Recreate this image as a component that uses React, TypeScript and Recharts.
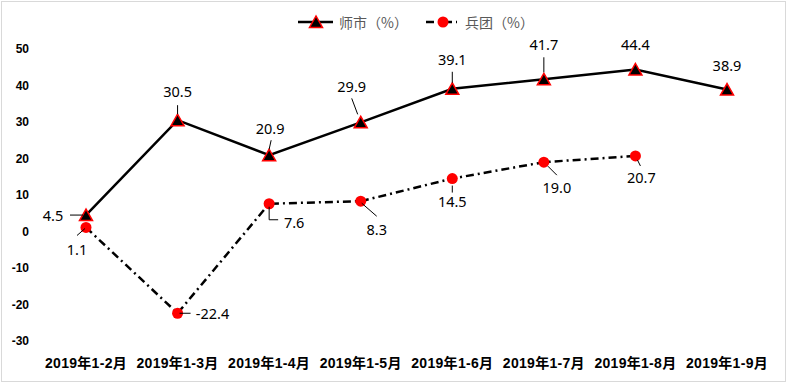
import React from 'react';
import { LineChart, Line, XAxis, YAxis, Legend, LabelList } from 'recharts';

const categories = ['2019年1-2月', '2019年1-3月', '2019年1-4月', '2019年1-5月', '2019年1-6月', '2019年1-7月', '2019年1-8月', '2019年1-9月'];
const shishiValues = [4.5, 30.5, 20.9, 29.9, 39.1, 41.7, 44.4, 38.9];
const bingtuanValues: (number | null)[] = [1.1, -22.4, 7.6, 8.3, 14.5, 19.0, 20.7, null];
const yTicks = [-30, -20, -10, 0, 10, 20, 30, 40, 50];
const seriesNames = ['师市（%）', '兵团（%）'];

const data = categories.map((c, i) => ({ name: c, shishi: shishiValues[i], bingtuan: bingtuanValues[i] }));

// label placement relative to each point (styling only)
type LL = { dx: number; dy: number; leader?: number[][] };
const shishiLabelLayout: LL[] = [
  { dx: -33, dy: 0, leader: [[-16, 0], [-3, 0]] },
  { dx: 0, dy: -29, leader: [[0, -15], [0, -6]] },
  { dx: 1, dy: -27, leader: [[2, -15], [0, -6]] },
  { dx: -9, dy: -36, leader: [[-9, -24], [-3, -8]] },
  { dx: 0, dy: -30, leader: [[0, -17], [0, -6]] },
  { dx: 0, dy: -35, leader: [[0, -22], [0, -7]] },
  { dx: 0, dy: -25 },
  { dx: 0, dy: -25 },
];
const bingtuanLabelLayout: LL[] = [
  { dx: -9, dy: 22, leader: [[-9, 8], [-1, 1]] },
  { dx: 35, dy: 0, leader: [[2, 0], [13, 0]] },
  { dx: 25, dy: 18, leader: [[0, 3], [0, 16], [9, 16]] },
  { dx: 16, dy: 28, leader: [[1, 2], [16, 15]] },
  { dx: 0, dy: 22, leader: [[0, 7], [0, 14]] },
  { dx: 13, dy: 25, leader: [[4, 4], [13, 13]] },
  { dx: 6, dy: 21, leader: [[2, 4], [5, 10]] },
];

const makeLabel = (layout: LL[]) => (props: any) => {
  const { x, y, value, index } = props;
  if (value == null || x == null || y == null) return null;
  const l = layout[index];
  if (!l) return null;
  return (
    <g>
      {l.leader && (
        <polyline
          points={l.leader.map((p) => `${x + p[0]},${y + p[1]}`).join(' ')}
          fill="none"
          stroke="#000"
          strokeWidth={1}
        />
      )}
      <text
        x={x + l.dx}
        y={y + l.dy}
        textAnchor="middle"
        dominantBaseline="central"
        fontFamily="'Noto Sans', sans-serif"
        fontSize={14.5}
        fill="#000"
      >
        {Number(value).toFixed(1)}
      </text>
    </g>
  );
};

const TriangleDot = (props: any) => {
  const { cx, cy } = props;
  if (cx == null || cy == null) return null;
  return (
    <path
      d={`M${cx},${cy - 6} L${cx - 6.5},${cy + 5.5} L${cx + 6.5},${cy + 5.5} Z`}
      fill="#000"
      stroke="#ff0000"
      strokeWidth={1.5}
    />
  );
};

const CircleDot = (props: any) => {
  const { cx, cy, value } = props;
  if (cx == null || cy == null || value == null) return null;
  return <circle cx={cx} cy={cy} r={5.5} fill="#ff0000" />;
};

const LegendContent = () => (
  <svg width={790} height={40}>
    <line x1={298} y1={22} x2={333} y2={22} stroke="#000" strokeWidth={2.5} />
    <path d="M316,16 L309.5,27.5 L322.5,27.5 Z" fill="#000" stroke="#ff0000" strokeWidth={1.5} />
    <text x={339} y={22} dominantBaseline="central" fontFamily="'Noto Sans CJK SC', sans-serif" fontSize={14} fill="#595959">
      {seriesNames[0]}
    </text>
    <line x1={426} y1={22} x2={457} y2={22} stroke="#000" strokeWidth={2.5} strokeDasharray="8 4 2 4" />
    <circle cx={443} cy={22} r={5.5} fill="#ff0000" />
    <text x={465} y={22} dominantBaseline="central" fontFamily="'Noto Sans CJK SC', sans-serif" fontSize={14} fill="#595959">
      {seriesNames[1]}
    </text>
  </svg>
);

export default function App() {
  return (
    <div style={{ position: 'absolute', left: 0, top: 0, width: 790, height: 384, background: '#fff' }}>
      <LineChart width={790} height={384} data={data} margin={{ top: 49, right: 17, bottom: 13, left: 0 }}>
        <XAxis
          dataKey="name"
          axisLine={false}
          tickLine={false}
          tickSize={0}
          tickMargin={17}
          height={30}
          interval={0}
          padding={{ left: 46, right: 46 }}
          tick={{ fontFamily: "'Liberation Sans', 'Noto Sans CJK SC', sans-serif", fontSize: 14, fontWeight: 'bold', fill: '#000', letterSpacing: 0.3 }}
        />
        <YAxis
          domain={[-30, 50]}
          ticks={yTicks}
          axisLine={false}
          tickLine={false}
          tickSize={0}
          tickMargin={11}
          width={40}
          interval={0}
          tick={{ fontFamily: "'Liberation Sans', sans-serif", fontSize: 12, fontWeight: 'bold', fill: '#000' }}
        />
        <Legend
          layout="horizontal"
          verticalAlign="middle"
          align="center"
          wrapperStyle={{ top: 0, left: 0, width: 790, height: 40 }}
          content={() => <LegendContent />}
        />
        <Line
          type="linear"
          dataKey="shishi"
          name={seriesNames[0]}
          stroke="#000"
          strokeWidth={2.5}
          dot={<TriangleDot />}
          activeDot={false}
          isAnimationActive={false}
        >
          <LabelList dataKey="shishi" content={makeLabel(shishiLabelLayout)} />
        </Line>
        <Line
          type="linear"
          dataKey="bingtuan"
          name={seriesNames[1]}
          stroke="#000"
          strokeWidth={2.5}
          strokeDasharray="8 4 2 4"
          dot={<CircleDot />}
          activeDot={false}
          isAnimationActive={false}
        >
          <LabelList dataKey="bingtuan" content={makeLabel(bingtuanLabelLayout)} />
        </Line>
      </LineChart>
      <div
        style={{
          position: 'absolute',
          left: 1,
          top: 1,
          width: 785,
          height: 381,
          boxSizing: 'border-box',
          border: '1px solid #d9d9d9',
          pointerEvents: 'none',
        }}
      />
    </div>
  );
}
